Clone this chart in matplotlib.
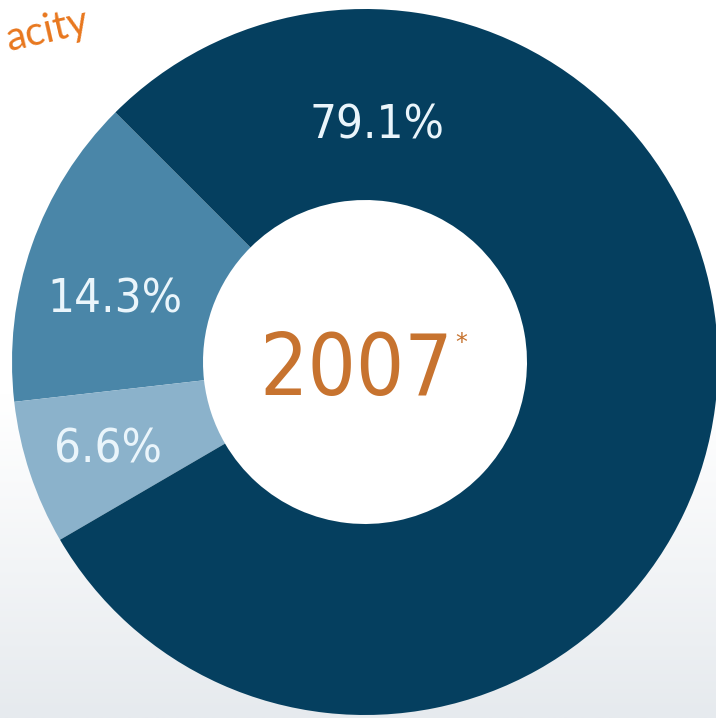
import matplotlib; matplotlib.use("Agg")
import matplotlib.pyplot as plt
from matplotlib.patches import Circle
import numpy as np

# data
shares = [14.3, 6.6, 79.1]
labels = ["14.3%", "6.6%", "79.1%"]
year = "2007"

COLS = ["#4A86A8", "#8BB2CB", "#053F5F"]
ORANGE = "#C7732F"; TITLE_OR = "#E8771E"; LABC = "#EAF5FB"

W, H = 716, 718
fig = plt.figure(figsize=(W/100, H/100), dpi=100)
ax = fig.add_axes([0, 0, 1, 1]); ax.set_xlim(0, W); ax.set_ylim(0, H); ax.axis("off")

# soft grey gradient at the bottom of the slide
g = np.linspace(0, 1, 256)
g = np.clip((g - 0.55) / 0.45, 0, 1) ** 1.1
grad = np.ones((256, 1, 3))
lo = np.array([0xE6, 0xEA, 0xEE]) / 255
grad[:, 0, :] = (1 - g[:, None]) * 1.0 + g[:, None] * lo
ax.imshow(grad, extent=[0, W, 0, H], aspect="auto", zorder=0, origin="upper")

cx, cy, R, r_in = 365, H - 362, 353, 162
wedges, _ = ax.pie(shares, colors=COLS, startangle=135, counterclock=True,
                   center=(cx, cy), radius=R, frame=True,
                   wedgeprops=dict(width=R - r_in, linewidth=0))
for w in wedges: w.set_zorder(2)
ax.add_patch(Circle((cx, cy), r_in, facecolor="white", edgecolor="none", zorder=1.5))
ax.set_xlim(0, W); ax.set_ylim(0, H); ax.set_aspect("equal"); ax.axis("off")

# label placement (angle deg, fraction of radius)
lab_pos = [(166, 0.73), (199, 0.77), (87, 0.67)]
for lab, (ang, fr) in zip(labels, lab_pos):
    a = np.deg2rad(ang)
    ax.text(cx + fr*R*np.cos(a), cy + fr*R*np.sin(a), lab, ha="center", va="center",
            fontsize=34, color=LABC, family="DejaVu Sans", fontstretch="condensed", zorder=3)

ax.text(356, H - 371, year, ha="center", va="center", fontsize=61, color=ORANGE,
        family="DejaVu Sans", fontstretch="condensed", zorder=3)
ax.text(461, H - 343, "*", ha="center", va="center", fontsize=17, color=ORANGE, zorder=3)

ax.text(2, H - 51, "acity", ha="left", va="baseline", rotation=13, fontsize=29,
        color=TITLE_OR, family="Lato", zorder=3)

fig.savefig("out.png", dpi=100)
